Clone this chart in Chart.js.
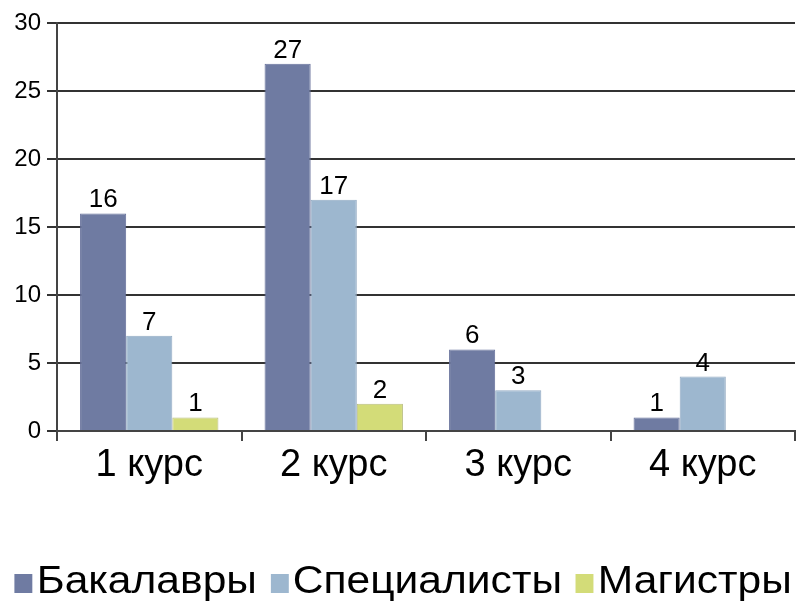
<!DOCTYPE html>
<html>
<head>
<meta charset="utf-8">
<script src="https://cdn.jsdelivr.net/npm/chart.js@4"></script>
<style>
  html, body { margin: 0; padding: 0; background: #fff; }
  #wrap { position: relative; width: 796px; height: 605px; overflow: hidden; }
  #legend {
    position: absolute; left: 6px; top: 558px; width: 796px;
    text-align: center; white-space: nowrap; line-height: 44px;
    font-family: "Liberation Sans", Arial, sans-serif; font-size: 38px; color: #000;
    transform: scaleX(1.12); transform-origin: 406px 0;
  }
  #legend .item { display: inline-block; margin: 0 6px; }
  #legend .box { display: inline-block; width: 16px; height: 19px; margin-right: 4px; vertical-align: baseline; }
</style>
</head>
<body>
<div id="wrap">
  <canvas id="barChart" width="796" height="605"></canvas>
  <div id="legend"></div>
</div>
<script>
var courses = ["1 курс", "2 курс", "3 курс", "4 курс"];
var bachelors = [16, 27, 6, 1];
var specialists = [7, 17, 3, 4];
var masters = [1, 2, null, null];
var yTicks = [0, 5, 10, 15, 20, 25, 30];

var fontName = "'Liberation Sans', Arial, sans-serif";

// value numbers above each bar
var valueLabels = {
  id: "valueLabels",
  afterDatasetsDraw: function(chart) {
    var ctx = chart.ctx;
    ctx.save();
    ctx.font = "26px " + fontName;
    ctx.fillStyle = "#000";
    ctx.textAlign = "center";
    ctx.textBaseline = "alphabetic";
    chart.data.datasets.forEach(function(ds, i) {
      chart.getDatasetMeta(i).data.forEach(function(bar, j) {
        if (ds.data[j] == null) return;
        ctx.fillText(ds.data[j], bar.x, bar.y - 6);
      });
    });
    ctx.restore();
  }
};

var data = {
  labels: courses,
  datasets: [
    { label: "Бакалавры", data: bachelors, backgroundColor: "#6f7ba2", borderColor: "#66709a", borderWidth: 1 },
    { label: "Специалисты", data: specialists, backgroundColor: "#9db7cf", borderColor: "#93abc3", borderWidth: 1 },
    { label: "Магистры", data: masters, backgroundColor: "#d3dc78", borderColor: "#b9be80", borderWidth: 1 }
  ]
};

var options = {
  responsive: false,
  animation: false,
  layout: { padding: { top: 23, right: 1, bottom: 0, left: 0 } },
  datasets: { bar: { categoryPercentage: 0.75, barPercentage: 1 } },
  plugins: { legend: { display: false }, tooltip: { enabled: false } },
  scales: {
    x: {
      offset: true,
      grid: { offset: true, drawOnChartArea: false, drawTicks: true, tickLength: 10, color: "#444", lineWidth: 2 },
      border: { display: true, color: "#444", width: 2 },
      ticks: { color: "#000", font: { family: fontName, size: 38 }, padding: 2 },
      afterFit: function(scale) { scale.height = 174; }
    },
    y: {
      min: 0,
      max: 30,
      afterBuildTicks: function(scale) {
        scale.ticks = yTicks.map(function(v) { return { value: v }; });
      },
      grid: { color: "#333", lineWidth: 2, tickLength: 10 },
      border: { display: true, color: "#444", width: 2 },
      ticks: { color: "#000", font: { family: fontName, size: 24 }, padding: 6 },
      afterFit: function(scale) { scale.width = 57; }
    }
  }
};

var barChart = document.getElementById("barChart").getContext("2d");
var myBarChart = new Chart(barChart, {
  type: "bar",
  data: data,
  options: options,
  plugins: [valueLabels]
});

// legend row under the axis
var legend = document.getElementById("legend");
data.datasets.forEach(function(ds) {
  var item = document.createElement("span");
  item.className = "item";
  var box = document.createElement("span");
  box.className = "box";
  box.style.background = ds.backgroundColor;
  item.appendChild(box);
  item.appendChild(document.createTextNode(ds.label));
  legend.appendChild(item);
});
</script>
</body>
</html>
